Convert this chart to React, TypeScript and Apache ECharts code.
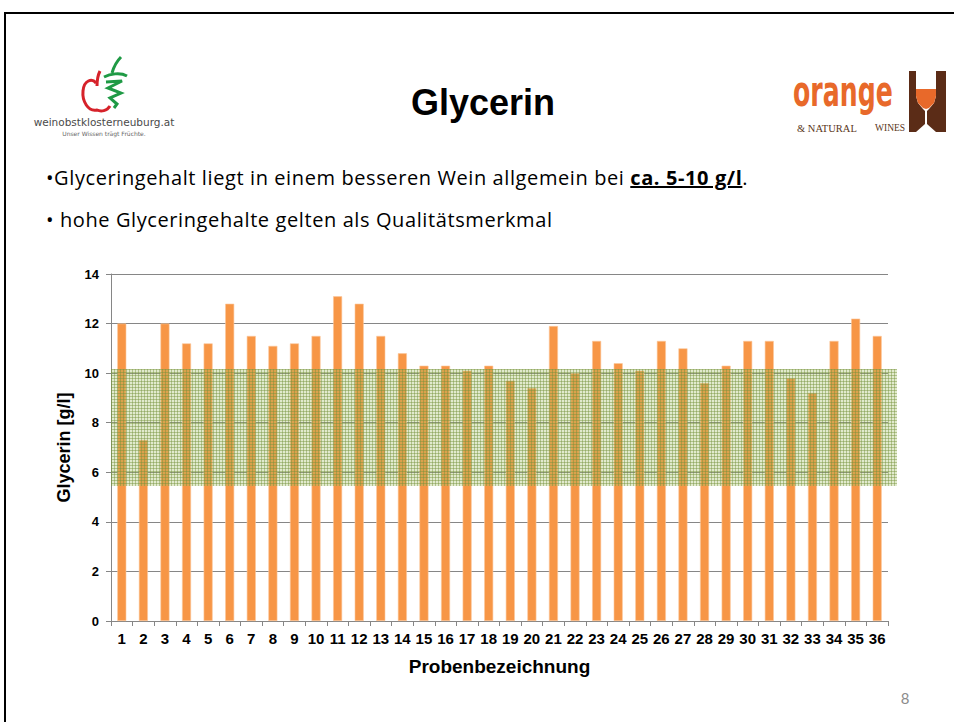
import React, { useEffect, useRef } from "react";
import * as echarts from "echarts";

const categories = ["1","2","3","4","5","6","7","8","9","10","11","12","13","14","15","16","17","18","19","20","21","22","23","24","25","26","27","28","29","30","31","32","33","34","35","36"];
const glycerin = [12.0, 7.3, 12.0, 11.2, 11.2, 12.8, 11.5, 11.1, 11.2, 11.5, 13.1, 12.8, 11.5, 10.8, 10.3, 10.3, 10.1, 10.3, 9.7, 9.4, 11.9, 10.0, 11.3, 10.4, 10.1, 11.3, 11.0, 9.6, 10.3, 11.3, 11.3, 9.8, 9.2, 11.3, 12.2, 11.5];
const bandLow = 5.45;
const bandHigh = 10.17;
const yMin = 0;
const yMax = 14;
const yInterval = 2;

const titleText = "Glycerin";
const yAxisName = "Glycerin [g/l]";
const xAxisName = "Probenbezeichnung";

const W = 954;
const H = 722;
const GRID = { left: 111, top: 274, right: 66, bottom: 101 };

echarts.graphic.registerShape(
  "appleRed",
  echarts.graphic.extendPath("M 96 83 C 92 78 84 80 83 91 C 82 101 88 112 97 110 C 101 112 107 111 110 106 M 97 86 C 97 79 98 75 100 71", {})
);
echarts.graphic.registerShape(
  "vineGreen",
  echarts.graphic.extendPath("M 112 73 C 114 66 117 61 121 57 M 104 77 C 110 74 120 72 127 76 M 106 82 L 122 81 L 108 88 L 121 93 L 110 98 L 117 104 L 114 108", {})
);

function makePattern(): any {
  const c = document.createElement("canvas");
  c.width = 3;
  c.height = 3;
  const ctx = c.getContext("2d");
  if (!ctx) return "rgba(110,150,50,0.3)";
  ctx.fillStyle = "rgba(155,187,89,0.3)";
  ctx.fillRect(0, 0, 3, 3);
  ctx.fillStyle = "rgba(118,146,60,0.45)";
  ctx.fillRect(0, 0, 3, 1);
  ctx.fillRect(0, 0, 1, 3);
  return { image: c, repeat: "repeat" };
}

export default function App() {
  const ref = useRef<HTMLDivElement>(null);
  useEffect(() => {
    if (!ref.current) return;
    const chart = echarts.init(ref.current, null, { renderer: "svg" });
    const axisGray = "#868686";
    chart.setOption({
      animation: false,
      backgroundColor: "#ffffff",
      grid: { ...GRID, containLabel: false },
      xAxis: {
        type: "category",
        data: categories,
        name: xAxisName,
        nameLocation: "middle",
        nameGap: 36,
        nameTextStyle: { fontFamily: "Liberation Sans, Arial, sans-serif", fontWeight: "bold", fontSize: 19, color: "#000" },
        axisLine: { lineStyle: { color: axisGray, width: 1 } },
        axisTick: { show: true, length: 5, lineStyle: { color: axisGray } },
        axisLabel: { fontFamily: "Liberation Sans, Arial, sans-serif", fontWeight: "bold", fontSize: 15, color: "#000", margin: 10, interval: 0 },
      },
      yAxis: {
        type: "value",
        min: yMin,
        max: yMax,
        interval: yInterval,
        name: yAxisName,
        nameLocation: "middle",
        nameGap: 38,
        nameTextStyle: { fontFamily: "Liberation Sans, Arial, sans-serif", fontWeight: "bold", fontSize: 18, color: "#000" },
        axisLine: { show: true, lineStyle: { color: axisGray, width: 1 } },
        axisTick: { show: true, length: 5, lineStyle: { color: axisGray } },
        axisLabel: { fontFamily: "Liberation Sans, Arial, sans-serif", fontWeight: "bold", fontSize: 13, color: "#000", margin: 12 },
        splitLine: { show: true, lineStyle: { color: axisGray, width: 1 } },
      },
      series: [
        {
          type: "bar",
          data: glycerin,
          barWidth: 9,
          itemStyle: { color: "#f79646", borderColor: "#fbc79c", borderWidth: 0.6 },
        },
      ],
      graphic: {
        elements: [
          { id: "borderTop", type: "rect", shape: { x: 4, y: 12, width: W, height: 2 }, style: { fill: "#000" } },
          { id: "borderLeft", type: "rect", shape: { x: 4, y: 12, width: 2, height: H }, style: { fill: "#000" } },
          {
            id: "title", type: "text", x: 483, y: 102,
            style: { text: titleText, fontFamily: "Liberation Sans, Arial, sans-serif", fontWeight: "bold", fontSize: 36, fill: "#000", align: "center", verticalAlign: "middle" },
          },
          { id: "apple", type: "appleRed", style: { fill: "none", stroke: "#d6222a", lineWidth: 3 } },
          { id: "vine", type: "vineGreen", style: { fill: "none", stroke: "#1f9a45", lineWidth: 3 } },
          {
            id: "logoText1", type: "text", x: 104, y: 122,
            style: { text: "weinobstklosterneuburg.at", fontFamily: "DejaVu Sans, sans-serif", fontSize: 10.5, fill: "#4a4a4a", align: "center", verticalAlign: "middle" },
          },
          {
            id: "logoText2", type: "text", x: 104, y: 133,
            style: { text: "Unser Wissen trägt Früchte.", fontFamily: "DejaVu Sans, sans-serif", fontSize: 6, fill: "#666", align: "center", verticalAlign: "middle" },
          },
          {
            id: "orangeText", type: "text", x: 793, y: 112, scaleX: 0.7, scaleY: 1.05,
            style: { text: "orange", fontFamily: "Liberation Sans Narrow, DejaVu Sans Condensed, sans-serif", fontWeight: "bold", fontSize: 40, fill: "#e8692a", align: "left", verticalAlign: "bottom" },
          },
          {
            id: "naturalText", type: "text", x: 797, y: 128,
            style: { text: "& NATURAL", fontFamily: "Liberation Serif, serif", fontSize: 10.5, fill: "#5a3520", align: "left", verticalAlign: "middle" },
          },
          {
            id: "winesText", type: "text", x: 875, y: 128,
            style: { text: "WINES", fontFamily: "Liberation Serif, serif", fontSize: 9.5, fill: "#5a3520", align: "left", verticalAlign: "middle" },
          },
          { id: "glassBg", type: "rect", shape: { x: 909, y: 71, width: 37, height: 61 }, style: { fill: "#5b2c17" } },
          {
            id: "glassWhite", type: "polygon",
            shape: { points: [[916, 71], [936, 71], [936, 96], [934, 103], [929, 109], [927, 111], [927, 124], [936, 132], [916, 132], [925, 124], [925, 111], [923, 109], [918, 103], [916, 96]] },
            style: { fill: "#ffffff" },
          },
          {
            id: "glassWine", type: "polygon",
            shape: { points: [[916, 89], [936, 89], [936, 96], [934, 103], [929, 108], [926, 109], [923, 108], [918, 103], [916, 96]] },
            style: { fill: "#e8692a" },
          },
          {
            id: "pageNo", type: "text", x: 905, y: 698,
            style: { text: "8", fontFamily: "Lato, Open Sans, sans-serif", fontSize: 15, fill: "#8c8c8c", align: "center", verticalAlign: "middle" },
          },
        ],
      },
    });

    const yTop = chart.convertToPixel({ yAxisIndex: 0 }, bandHigh) as number;
    const yBot = chart.convertToPixel({ yAxisIndex: 0 }, bandLow) as number;
    const xLeft = GRID.left;
    const xRight = W - GRID.right + 9;
    chart.setOption({
      graphic: {
        elements: [
          {
            id: "band", type: "rect", z: 10,
            shape: { x: xLeft, y: yTop, width: xRight - xLeft, height: yBot - yTop },
            style: { fill: makePattern() },
          },
        ],
      },
    });
    return () => chart.dispose();
  }, []);

  const textFont = "'Open Sans', Lato, sans-serif";
  const lineStyle: React.CSSProperties = { position: "absolute", left: 46, fontFamily: textFont, fontSize: 20, letterSpacing: "0.6px", color: "#000", whiteSpace: "nowrap", lineHeight: "26px" };
  return (
    <div style={{ position: "absolute", left: 0, top: 0, width: W, height: H, overflow: "hidden" }}>
      <div ref={ref} style={{ position: "absolute", left: 0, top: 0, width: W, height: H }} />
      <div style={{ ...lineStyle, top: 165 }}>
        •Glyceringehalt liegt in einem besseren Wein allgemein bei <b><u>ca. 5-10 g/l</u></b>.
      </div>
      <div style={{ ...lineStyle, top: 207 }}>
        • hohe Glyceringehalte gelten als Qualitätsmerkmal
      </div>
    </div>
  );
}
